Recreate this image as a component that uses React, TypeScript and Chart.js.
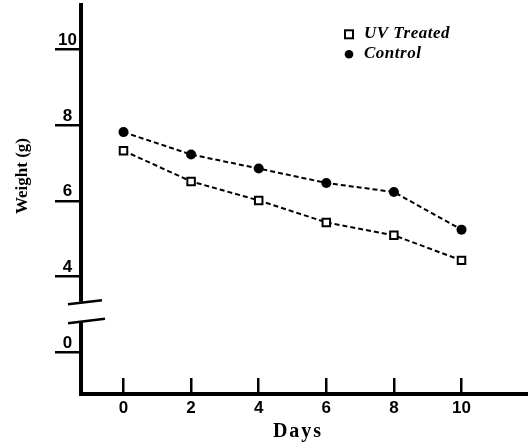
import React, { useEffect, useRef } from "react";
import { Chart, registerables } from "chart.js";

Chart.register(...registerables);

// ---- data ----
const days = [0, 2, 4, 6, 8, 10];
const uvTreated = [7.32, 6.51, 6.01, 5.43, 5.09, 4.43];
const control = [7.81, 7.22, 6.85, 6.47, 6.23, 5.24];
const seriesLabels = ["UV Treated", "Control"];

const xTickValues = [0, 2, 4, 6, 8, 10];
const xTickLabels = ["0", "2", "4", "6", "8", "10"];
// The y axis is broken: the "0" tick sits below the break, at scale position 2.
const yTickValues = [2, 4, 6, 8, 10];
const yTickLabels = ["0", "4", "6", "8", "10"];
const breakUpper = 3.34;
const breakLower = 2.81;

const xTitle = "Days";
const yTitle = "Weight (g)";

const SERIF = '"Liberation Serif", "Times New Roman", serif';
const SANS = '"Liberation Sans", Arial, sans-serif';

const decorPlugin = {
  id: "decor",
  afterDraw(chart: any) {
    const ctx = chart.ctx;
    const area = chart.chartArea;
    const yS = chart.scales.y;
    const ax = area.left;
    ctx.save();
    // corner fill
    ctx.fillStyle = "#000";
    ctx.fillRect(ax - 2, area.bottom - 2, 4, 4);
    // axis break
    const yTop = yS.getPixelForValue(breakUpper);
    const yBot = yS.getPixelForValue(breakLower);
    ctx.fillStyle = "#fff";
    ctx.fillRect(ax - 4, yTop, 8, yBot - yTop);
    ctx.strokeStyle = "#000";
    ctx.lineWidth = 2.5;
    ctx.beginPath();
    ctx.moveTo(ax - 13, yTop + 2.5);
    ctx.lineTo(ax + 21, yTop - 1.5);
    ctx.moveTo(ax - 13, yBot + 1.5);
    ctx.lineTo(ax + 24, yBot - 3);
    ctx.stroke();

    // legend
    const datasets = chart.data.datasets;
    const mx = area.right - 179;
    const tx = area.right - 164;
    datasets.forEach((ds: any, i: number) => {
      const base = area.top + 33.3 + i * 20;
      const cy = base - 4;
      ctx.lineWidth = 2;
      ctx.strokeStyle = ds.pointBorderColor;
      ctx.fillStyle = ds.pointBackgroundColor;
      if (ds.pointStyle === "rect") {
        ctx.fillRect(mx - 4, cy - 4, 8, 8);
        ctx.strokeRect(mx - 4, cy - 4, 8, 8);
      } else {
        ctx.beginPath();
        ctx.arc(mx, cy, 4.3, 0, Math.PI * 2);
        ctx.fill();
      }
      ctx.fillStyle = "#000";
      ctx.font = `italic bold 17px ${SERIF}`;
      ctx.textAlign = "left";
      ctx.textBaseline = "alphabetic";
      (ctx as any).letterSpacing = "0.5px";
      ctx.fillText(ds.label, tx, base);
      (ctx as any).letterSpacing = "0px";
    });

    // axis titles
    ctx.fillStyle = "#000";
    ctx.font = `bold 20px ${SERIF}`;
    (ctx as any).letterSpacing = "2px";
    ctx.textAlign = "center";
    ctx.textBaseline = "alphabetic";
    ctx.fillText(xTitle, 298, area.bottom + 43);
    (ctx as any).letterSpacing = "0px";

    ctx.translate(yS.left + 27, area.top + 171);
    ctx.rotate(-Math.PI / 2);
    ctx.font = `bold 17px ${SERIF}`;
    ctx.textAlign = "center";
    ctx.fillText(yTitle, 0, 0);
    ctx.restore();
  },
};

export default function App() {
  const ref = useRef<HTMLCanvasElement | null>(null);

  useEffect(() => {
    if (!ref.current) return;
    const chart = new Chart(ref.current, {
      type: "line",
      data: {
        datasets: [
          {
            label: seriesLabels[0],
            data: days.map((d, i) => ({ x: d, y: uvTreated[i] })),
            borderColor: "#000",
            borderWidth: 2,
            borderDash: [5, 3],
            tension: 0,
            pointStyle: "rect",
            pointRadius: 5.3,
            pointBackgroundColor: "#fff",
            pointBorderColor: "#000",
            pointBorderWidth: 2,
          },
          {
            label: seriesLabels[1],
            data: days.map((d, i) => ({ x: d, y: control[i] })),
            borderColor: "#000",
            borderWidth: 2,
            borderDash: [5, 3],
            tension: 0,
            pointStyle: "circle",
            pointRadius: 5,
            pointBackgroundColor: "#000",
            pointBorderColor: "#000",
            pointBorderWidth: 0,
          },
        ],
      },
      options: {
        animation: false,
        responsive: true,
        maintainAspectRatio: false,
        layout: { autoPadding: false, padding: { top: 5, left: 0, right: 0, bottom: 0 } },
        plugins: {
          legend: { display: false },
          tooltip: { enabled: false },
        },
        scales: {
          x: {
            type: "linear",
            position: "bottom",
            min: -1.257,
            max: 11.967,
            afterBuildTicks: (s: any) => {
              s.ticks = xTickValues.map((v) => ({ value: v }));
            },
            afterFit: (s: any) => {
              s.height = 52;
              s.paddingLeft = 0;
              s.paddingRight = 0;
            },
            border: { display: true, color: "#000", width: 4 },
            grid: {
              drawOnChartArea: false,
              drawTicks: true,
              tickLength: -16,
              color: "#000",
              lineWidth: 2.5,
            },
            ticks: {
              autoSkip: false,
              maxRotation: 0,
              padding: 20,
              color: "#000",
              font: { family: SANS, size: 17, weight: "bold" },
              callback: (v: any) => xTickLabels[xTickValues.indexOf(Number(v))] ?? "",
            },
          },
          y: {
            type: "linear",
            position: "left",
            min: 0.909,
            max: 11.159,
            afterBuildTicks: (s: any) => {
              s.ticks = yTickValues.map((v) => ({ value: v }));
            },
            afterFit: (s: any) => {
              s.width = 81;
              s.paddingTop = 0;
              s.paddingBottom = 0;
            },
            border: { display: true, color: "#000", width: 4 },
            grid: {
              drawOnChartArea: false,
              drawTicks: true,
              tickLength: 26,
              color: "#000",
              lineWidth: 2.5,
            },
            ticks: {
              autoSkip: false,
              padding: -22,
              crossAlign: "center",
              labelOffset: -9,
              color: "#000",
              font: { family: SANS, size: 17, weight: "bold" },
              callback: (v: any) => yTickLabels[yTickValues.indexOf(Number(v))] ?? "",
            },
          },
        },
      },
      plugins: [decorPlugin],
    } as any);
    return () => chart.destroy();
  }, []);

  return (
    <div style={{ position: "fixed", left: 0, top: 0, width: 528, height: 446, background: "#fff" }}>
      <canvas ref={ref} />
    </div>
  );
}
